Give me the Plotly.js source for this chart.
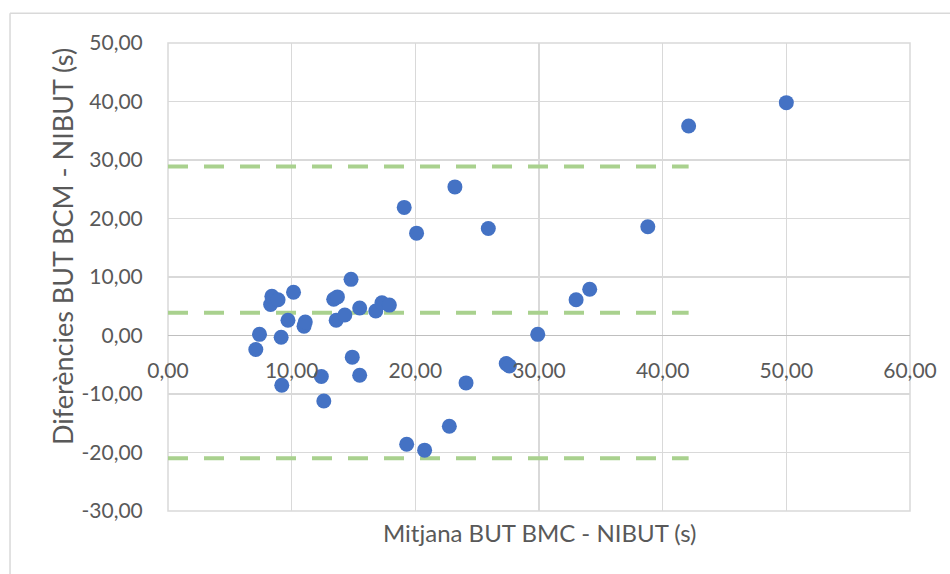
<!DOCTYPE html>
<html>
<head>
<meta charset="utf-8">
<script src="https://cdn.plot.ly/plotly-3.0.1.min.js"></script>
<style>html,body{margin:0;padding:0;background:#fff;}#chart{width:950px;height:574px;}</style>
</head>
<body>
<div id="chart"></div>
<script>
// Bland-Altman data: mean (x) and difference (y)
const meanValues = [7.1, 7.4, 8.3, 8.4, 8.9, 9.15, 9.2, 9.7, 10.15, 11.0, 11.1, 12.4, 12.6, 13.4, 13.7, 13.6, 14.3, 14.8, 14.9, 15.5, 15.5, 16.8, 17.3, 17.9, 19.1, 19.3, 20.1, 20.75, 22.75, 23.2, 24.1, 25.9, 27.35, 27.6, 29.9, 33.0, 34.1, 38.8, 42.1, 50.0];
const diffValues = [-2.4, 0.2, 5.3, 6.7, 6.1, -0.3, -8.5, 2.6, 7.4, 1.6, 2.3, -7.0, -11.2, 6.2, 6.6, 2.6, 3.5, 9.6, -3.7, 4.7, -6.8, 4.2, 5.6, 5.2, 21.9, -18.6, 17.5, -19.6, -15.5, 25.4, -8.1, 18.3, -4.8, -5.2, 0.2, 6.1, 7.9, 18.6, 35.8, 39.8];
const limitX = [0, 42.1];
const upperLimit = 28.9;
const meanDiff = 3.9;
const lowerLimit = -21.0;

const xTickVals = [0, 10, 20, 30, 40, 50, 60];
const xTickLabels = ['0,00', '10,00', '20,00', '30,00', '40,00', '50,00', '60,00'];
const yTickVals = [-30, -20, -10, 0, 10, 20, 30, 40, 50];
const yTickLabels = ['-30,00', '-20,00', '-10,00', '0,00', '10,00', '20,00', '30,00', '40,00', '50,00'];

const font = 'Lato, "Open Sans", sans-serif';
const txt = '#595959';
const lineStyle = {color: '#A9D18E', width: 4, dash: '20px,16px'};

const traces = [
  {x: limitX, y: limitX.map(() => upperLimit), mode: 'lines', line: lineStyle, hoverinfo: 'skip'},
  {x: limitX, y: limitX.map(() => meanDiff), mode: 'lines', line: lineStyle, hoverinfo: 'skip'},
  {x: limitX, y: limitX.map(() => lowerLimit), mode: 'lines', line: lineStyle, hoverinfo: 'skip'},
  {x: meanValues, y: diffValues, mode: 'markers', type: 'scatter',
   marker: {color: '#4472C4', size: 15, line: {width: 0}}}
];

const layout = {
  width: 950, height: 574,
  margin: {l: 168, r: 40, t: 43, b: 63},
  paper_bgcolor: '#ffffff', plot_bgcolor: '#ffffff',
  showlegend: false,
  font: {family: font, color: txt, size: 20},
  xaxis: {
    range: [0, 60], tickmode: 'array', tickvals: xTickVals, ticktext: xTickLabels,
    showgrid: true, gridcolor: '#d9d9d9', gridwidth: 1.5,
    zeroline: false, showline: false,
    anchor: 'free', position: 0.375,
    ticks: 'outside', ticklen: 16, tickcolor: 'rgba(0,0,0,0)',
    tickfont: {family: font, size: 21, color: txt}
  },
  yaxis: {
    range: [-30, 50], tickmode: 'array', tickvals: yTickVals, ticktext: yTickLabels,
    showgrid: true, gridcolor: '#d9d9d9', gridwidth: 1.5,
    zeroline: true, zerolinecolor: '#bfbfbf', zerolinewidth: 1.5,
    showline: false,
    ticks: 'outside', ticklen: 20, tickcolor: 'rgba(0,0,0,0)',
    tickfont: {family: font, size: 21, color: txt}
  },
  shapes: [
    {type: 'rect', xref: 'paper', yref: 'paper', x0: 0, x1: 1, y0: 0, y1: 1,
     line: {color: '#d9d9d9', width: 1.5}, layer: 'below'},
    {type: 'line', xref: 'paper', yref: 'paper', x0: -0.2129, x1: 1.1, y0: 1.0635, y1: 1.0635,
     line: {color: '#d9d9d9', width: 1.5}},
    {type: 'line', xref: 'paper', yref: 'paper', x0: -0.2129, x1: -0.2129, y0: -0.2, y1: 1.0635,
     line: {color: '#d9d9d9', width: 1.5}}
  ],
  annotations: [
    {text: 'Mitjana BUT BMC - NIBUT (s)', xref: 'paper', yref: 'paper', x: 0.5, y: -0.047,
     xanchor: 'center', yanchor: 'middle', showarrow: false,
     font: {family: font, size: 24, color: txt}},
    {text: 'Diferències BUT BCM - NIBUT (s)', xref: 'paper', yref: 'paper', x: -0.1429, y: 0.566,
     xanchor: 'center', yanchor: 'middle', textangle: -90, showarrow: false,
     font: {family: font, size: 27, color: txt}}
  ]
};

Plotly.newPlot('chart', traces, layout, {displayModeBar: false, staticPlot: true});
</script>
</body>
</html>
